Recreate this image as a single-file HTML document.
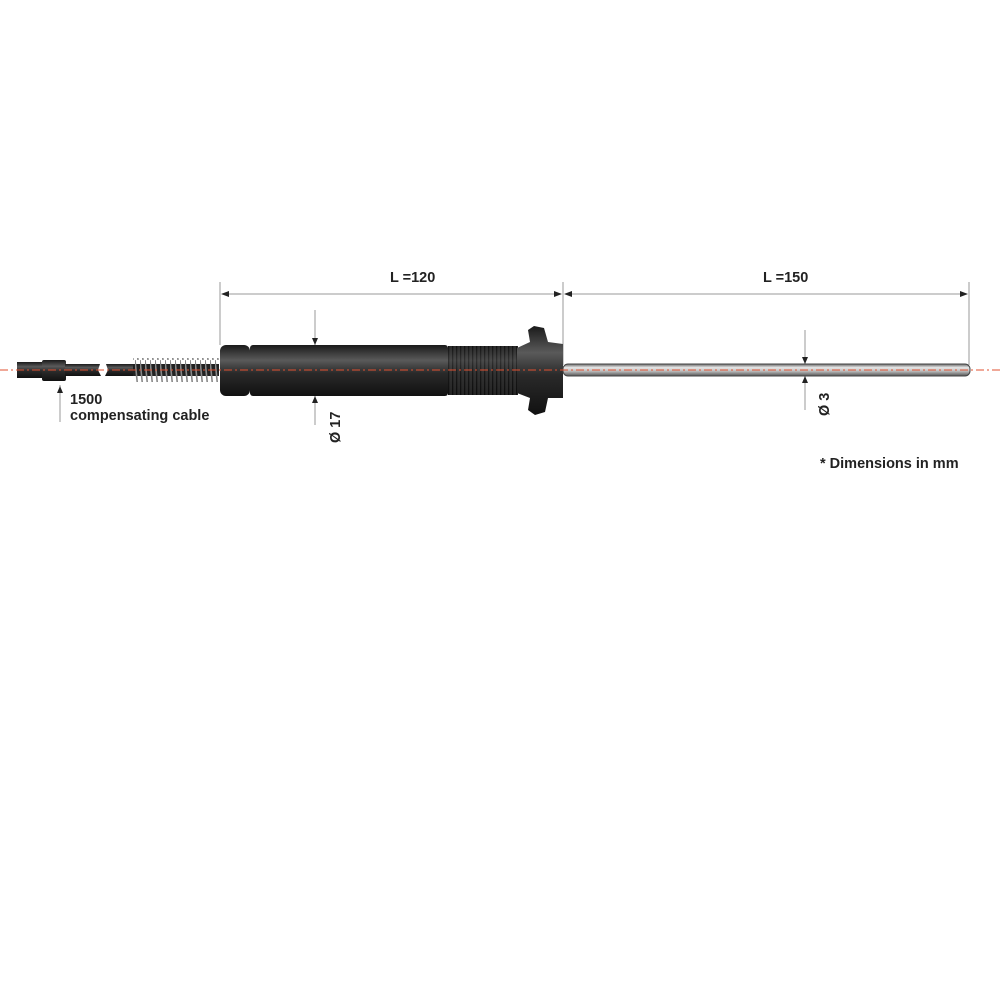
<!DOCTYPE html>
<html><head><style>body{margin:0;background:#fff}svg{display:block}text{font-family:"Liberation Sans",sans-serif;font-weight:bold;fill:#222}</style></head><body>
<svg width="1000" height="1000" viewBox="0 0 1000 1000">
<defs>
<linearGradient id="blk" x1="0" y1="0" x2="0" y2="1"><stop offset="0" stop-color="#1a1a1a"/><stop offset="0.3" stop-color="#5a5a5a"/><stop offset="0.55" stop-color="#2a2a2a"/><stop offset="1" stop-color="#111"/></linearGradient>
<linearGradient id="rod" x1="0" y1="0" x2="0" y2="1"><stop offset="0" stop-color="#666"/><stop offset="0.3" stop-color="#e8e8e8"/><stop offset="0.6" stop-color="#bbb"/><stop offset="1" stop-color="#555"/></linearGradient>
<pattern id="thr" width="4" height="60" patternUnits="userSpaceOnUse"><rect width="4" height="60" fill="#3a3a3a"/><rect width="1.3" height="60" fill="#0a0a0a"/></pattern>
<pattern id="spr" width="5" height="30" patternUnits="userSpaceOnUse"><line x1="0" y1="0" x2="3" y2="30" stroke="#888" stroke-width="1.6"/></pattern>
</defs>
<g stroke="#999" stroke-width="1" fill="none">
<line x1="220" y1="282" x2="220" y2="345"/><line x1="563" y1="282" x2="563" y2="365"/><line x1="969" y1="282" x2="969" y2="365"/>
<line x1="222" y1="294" x2="561" y2="294"/><line x1="565" y1="294" x2="967" y2="294"/>
<line x1="315" y1="310" x2="315" y2="425"/><line x1="805" y1="330" x2="805" y2="410"/>
<line x1="60" y1="385" x2="60" y2="422"/>
</g>
<g fill="#222">
<polygon points="221,294 229,291 229,297"/><polygon points="562,294 554,291 554,297"/>
<polygon points="564,294 572,291 572,297"/><polygon points="968,294 960,291 960,297"/>
<polygon points="315,345 312,338 318,338"/><polygon points="315,396 312,403 318,403"/>
<polygon points="805,364 802,357 808,357"/><polygon points="805,376 802,383 808,383"/>
<polygon points="60,386 57,393 63,393"/>
</g>
<rect x="17" y="362" width="27" height="16" fill="url(#blk)"/>
<rect x="42" y="360" width="24" height="21" fill="url(#blk)" rx="2"/>
<polygon points="65,364 100,364 98,370 101,376 65,376" fill="url(#blk)"/>
<polygon points="106,364 140,364 140,376 105,376 108,370" fill="url(#blk)"/>
<rect x="133" y="364" width="86" height="12" fill="#222"/>
<rect x="133" y="358" width="86" height="24" fill="url(#spr)"/>
<rect x="220" y="345" width="30" height="51" rx="6" fill="url(#blk)"/>
<rect x="250" y="345" width="198" height="51" rx="3" fill="url(#blk)"/>
<rect x="448" y="346" width="70" height="49" fill="url(#thr)"/>
<rect x="448" y="346" width="70" height="49" fill="url(#blk)" opacity="0.5"/>
<path d="M517,348 L530,342 L528,330 L534,326 L544,328 L548,342 L563,344 L563,398 L548,398 L545,412 L535,415 L528,410 L530,398 L517,393 Z" fill="url(#blk)"/>
<rect x="563" y="364" width="407" height="12" rx="5" fill="url(#rod)" stroke="#444" stroke-width="1"/>
<line x1="0" y1="370" x2="1000" y2="370" stroke="#e05030" stroke-width="1" stroke-dasharray="8,3,2,3"/>
<text x="390" y="282" font-size="14.5">L =120</text>
<text x="763" y="282" font-size="14.5">L =150</text>
<text x="70" y="404" font-size="14.5">1500</text>
<text x="70" y="420" font-size="14.5">compensating cable</text>
<text x="820" y="468" font-size="14.5">* Dimensions in mm</text>
<text transform="translate(340,443) rotate(-90)" font-size="14.5">Ø 17</text>
<text transform="translate(829,416) rotate(-90)" font-size="14.5">Ø 3</text>
</svg>
</body></html>
